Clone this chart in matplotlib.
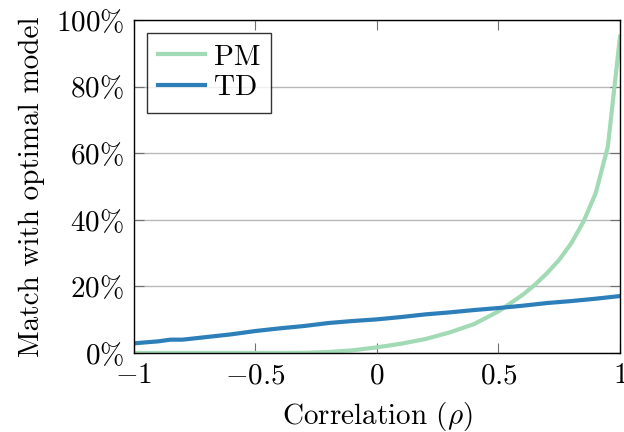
import matplotlib
matplotlib.use("Agg")
import matplotlib.pyplot as plt

plt.rcParams['font.family'] = 'cmr10'
plt.rcParams['mathtext.fontset'] = 'cm'
plt.rcParams['axes.formatter.use_mathtext'] = True

# data (percent)
rho_pm = [-1.0, -0.9, -0.8, -0.7, -0.6, -0.5, -0.4, -0.3, -0.2, -0.1, 0.0,
          0.1, 0.2, 0.3, 0.4, 0.5, 0.6, 0.65, 0.7, 0.75, 0.8, 0.85, 0.9, 0.95, 1.0]
pm = [0.0, 0.0, 0.0, 0.0, 0.0, 0.0, 0.0, 0.05, 0.3, 0.8, 1.7,
      2.8, 4.2, 6.2, 8.7, 12.5, 17.5, 20.5, 24.0, 28.0, 33.0, 39.5, 48.0, 62.0, 95.0]

rho_td = [-1.0, -0.9, -0.85, -0.8, -0.7, -0.6, -0.5, -0.4, -0.3, -0.2, -0.1, 0.0,
          0.1, 0.2, 0.3, 0.4, 0.5, 0.6, 0.7, 0.8, 0.9, 1.0]
td = [2.9, 3.5, 4.0, 4.0, 4.8, 5.6, 6.6, 7.4, 8.1, 9.0, 9.6, 10.1,
      10.8, 11.6, 12.2, 12.9, 13.5, 14.2, 15.0, 15.6, 16.3, 17.1]

xticks = [-1, -0.5, 0, 0.5, 1]
xticklabels = ['$-1$', '$-0.5$', '$0$', '$0.5$', '$1$']
yticks = [0, 20, 40, 60, 80, 100]
yticklabels = ['$%d\\%%$' % v for v in yticks]

fig = plt.figure(figsize=(6.24, 4.32), dpi=100)
ax = fig.add_axes([0.2147, 0.1829, 0.9936 - 0.2147, 0.9537 - 0.1829])

ax.plot(rho_pm, pm, color='#a1dab4', lw=3, label='PM')
ax.plot(rho_td, td, color='#2c7fb8', lw=3, label='TD')

ax.set_xlim(-1, 1)
ax.set_ylim(0, 100)
ax.set_xticks(xticks)
ax.set_xticklabels(xticklabels)
ax.set_yticks(yticks)
ax.set_yticklabels(yticklabels)

ax.grid(True, axis='y', color='#b8b8b8', lw=1)
ax.tick_params(direction='in', length=7, width=0.8, color='#707070',
               top=True, right=True, labelsize=21, pad=7)
for s in ax.spines.values():
    s.set_linewidth(1.0)
    s.set_color('black')

ax.set_xlabel(r'Correlation ($\rho$)', fontsize=21, labelpad=8)
ax.set_ylabel('Match with optimal model', fontsize=21, labelpad=8)

leg = ax.legend(loc='upper left', fontsize=21, frameon=True, fancybox=False,
                edgecolor='black', handlelength=1.6, borderpad=0.38,
                labelspacing=0.15, handletextpad=0.3, borderaxespad=0.45)
leg.get_frame().set_linewidth(1.0)

fig.savefig('out.png', dpi=100)
